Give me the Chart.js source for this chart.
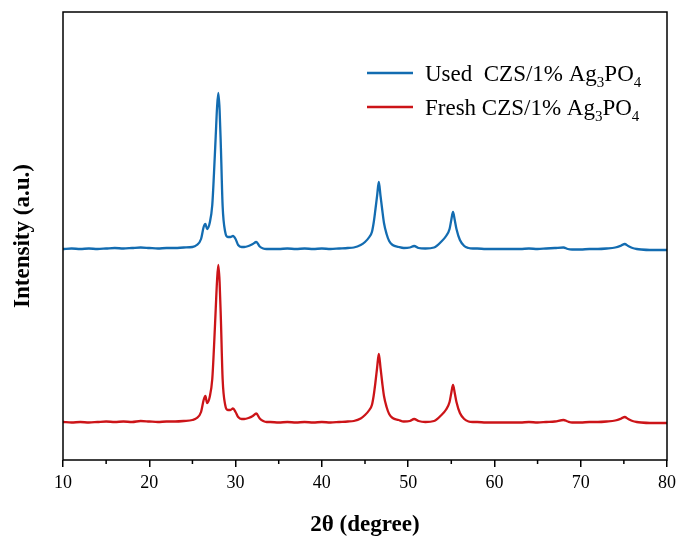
<!DOCTYPE html>
<html>
<head>
<meta charset="utf-8">
<script src="https://cdn.jsdelivr.net/npm/chart.js@4.4.1/dist/chart.umd.min.js"></script>
<style>
  html, body { margin: 0; padding: 0; background: #fff; }
</style>
</head>
<body>
<canvas id="xrd" width="681" height="539"></canvas>
<script>
// 2theta positions (degrees), denser around the reflections
const twoTheta = [
  10, 11, 12, 13, 14, 15, 16, 17, 18, 19,
  20, 21, 22, 23, 24, 25, 25.5, 26, 26.3, 26.5,
  26.7, 27, 27.3, 27.5, 27.7, 27.85, 28, 28.15, 28.3, 28.5,
  28.8, 29.1, 29.4, 29.7, 30, 30.3, 30.7, 31, 31.5, 32,
  32.4, 32.8, 33.2, 33.6, 34, 35, 36, 37, 38, 39,
  40, 41, 42, 43, 43.7, 44.5, 45, 45.5, 45.8, 46,
  46.2, 46.4, 46.6, 46.8, 47, 47.2, 47.5, 47.8, 48.2, 48.9,
  49.5, 50.2, 50.7, 51.2, 52, 53, 53.8, 54.4, 54.8, 55,
  55.2, 55.4, 55.6, 56, 56.5, 57, 57.5, 58, 59, 60,
  61, 62, 63, 64, 65, 66, 67, 68, 68.5, 69,
  70, 71, 72, 73, 74, 74.7, 75.1, 75.5, 76, 76.5,
  77, 78, 79, 80
];

// Used CZS/1% Ag3PO4 (stacked, a.u.)
const usedCounts = [
  211, 211.5, 211, 211.5, 211, 211.5, 212, 211.5, 212, 212.5,
  212, 211.5, 212, 212, 212.5, 213, 215, 221, 233, 236,
  231, 237, 255, 287, 324, 352, 367, 350, 312, 254,
  228, 223, 223, 224, 221, 215, 213, 213, 214, 216,
  218, 213.5, 211.5, 211, 211, 211, 211.5, 211, 211.5, 211,
  211.5, 211, 211.5, 212, 212.5, 215, 218, 223, 228, 237,
  250, 264, 278, 264, 250, 237, 226, 219, 215, 213,
  212, 212.5, 214, 212, 211.5, 212.5, 218, 224, 231, 240,
  248, 240, 231, 220, 214, 212, 211.5, 211.5, 211, 211,
  211, 211, 211, 211.5, 211, 211.5, 212, 212.5, 211, 210.5,
  210.5, 211, 211, 211.5, 212.5, 214.5, 216, 214, 212, 211,
  210.5, 210, 210, 210
];

// Fresh CZS/1% Ag3PO4 (a.u.)
const freshCounts = [
  38, 37.5, 38, 37.5, 38, 38.5, 38, 38.5, 38, 39,
  38.5, 38, 38.5, 38.5, 39, 40, 42, 48, 60, 64,
  57, 63, 81, 113, 151, 179, 195, 178, 140, 81,
  55, 50, 50, 51.5, 48, 43, 41, 41, 42, 44,
  46.5, 41.5, 39, 38, 38, 37.5, 38, 37.5, 38, 37.5,
  38, 37.5, 38, 38.5, 39, 41.5, 45, 50, 55, 64,
  77, 92, 106, 92, 77, 64, 53, 46, 42, 40,
  38.5, 39, 41, 39, 38, 39, 44.5, 50.5, 58, 67,
  75, 67, 58, 47, 41, 38.5, 38, 38, 37.5, 37.5,
  37.5, 37.5, 37.5, 38, 37.5, 38, 38.5, 40, 38.5, 37.5,
  37.5, 38, 38, 38.5, 39.5, 41.5, 43, 41, 39, 38,
  37.5, 37, 37, 37
];

const majorTicks = [10, 20, 30, 40, 50, 60, 70, 80];
const minorTicks = [15, 25, 35, 45, 55, 65, 75];

// legend texts, _{n} marks a subscript
const seriesNames = ['Used  CZS/1% Ag_{3}PO_{4}', 'Fresh CZS/1% Ag_{3}PO_{4}'];
const seriesColors = ['#136cb1', '#cc1418'];

const SERIF = '"Liberation Serif", "Times New Roman", serif';

const toPoints = ys => twoTheta.map((t, i) => ({ x: t, y: ys[i] }));
const plain = s => s.replace(/_\{(.*?)\}/g, '$1');

const frame = {
  id: 'frame',
  afterDatasetsDraw(chart) {
    const { ctx, chartArea: a, scales: { x } } = chart;
    ctx.save();
    ctx.strokeStyle = '#000';
    ctx.lineWidth = 1.5;
    ctx.strokeRect(a.left, a.top, a.right - a.left, a.bottom - a.top);
    minorTicks.forEach(v => {
      const px = x.getPixelForValue(v);
      ctx.beginPath();
      ctx.moveTo(px, a.bottom);
      ctx.lineTo(px, a.bottom + 4);
      ctx.stroke();
    });
    ctx.restore();
  }
};

// legend with subscripts
const subLegend = {
  id: 'subLegend',
  afterDraw(chart) {
    const ctx = chart.ctx;
    const rows = [73, 107];
    ctx.save();
    seriesNames.forEach((name, i) => {
      const y = rows[i];
      ctx.strokeStyle = seriesColors[i];
      ctx.lineWidth = 2.5;
      ctx.beginPath();
      ctx.moveTo(367, y);
      ctx.lineTo(413, y);
      ctx.stroke();
      let xPos = 425;
      const base = y + 8;
      ctx.fillStyle = '#000';
      ctx.textBaseline = 'alphabetic';
      name.split(/(_\{.*?\})/).filter(Boolean).forEach(part => {
        const sub = part.startsWith('_{');
        const txt = sub ? part.slice(2, -1) : part;
        ctx.font = (sub ? 15 : 23) + 'px ' + SERIF;
        ctx.fillText(txt, xPos, sub ? base + 6 : base);
        xPos += ctx.measureText(txt).width;
      });
    });
    ctx.restore();
  }
};

new Chart(document.getElementById('xrd'), {
  type: 'line',
  data: {
    datasets: [
      {
        label: plain(seriesNames[0]),
        data: toPoints(usedCounts),
        borderColor: seriesColors[0],
        borderWidth: 2.3,
        pointRadius: 0,
        cubicInterpolationMode: 'monotone',
        fill: false
      },
      {
        label: plain(seriesNames[1]),
        data: toPoints(freshCounts),
        borderColor: seriesColors[1],
        borderWidth: 2.3,
        pointRadius: 0,
        cubicInterpolationMode: 'monotone',
        fill: false
      }
    ]
  },
  options: {
    responsive: false,
    animation: false,
    layout: { padding: { top: 12, right: 11, left: 0, bottom: 0 } },
    plugins: { legend: { display: false }, tooltip: { enabled: false } },
    scales: {
      x: {
        type: 'linear',
        min: 10,
        max: 80,
        afterBuildTicks: s => { s.ticks = majorTicks.map(v => ({ value: v })); },
        afterFit: s => { s.height = 79; },
        ticks: { color: '#000', font: { family: SERIF, size: 18 }, padding: 5, maxRotation: 0 },
        grid: { drawOnChartArea: false, tickLength: 7, color: '#000', lineWidth: 1.5 },
        border: { display: false },
        title: {
          display: true,
          text: '2θ (degree)',
          color: '#000',
          font: { family: SERIF, size: 23, weight: 'bold' },
          padding: { top: 0, bottom: 0 }
        }
      },
      y: {
        min: 0,
        max: 448,
        afterFit: s => { s.width = 63; },
        ticks: { display: false },
        grid: { display: false },
        border: { display: false },
        title: {
          display: true,
          text: 'Intensity (a.u.)',
          color: '#000',
          font: { family: SERIF, size: 23, weight: 'bold' },
          padding: { top: 9, bottom: 0 }
        }
      }
    }
  },
  plugins: [frame, subLegend]
});
</script>
</body>
</html>
